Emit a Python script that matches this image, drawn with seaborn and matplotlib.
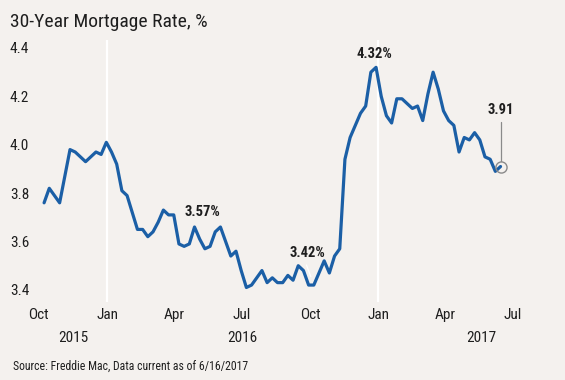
import pandas as pd
import numpy as np
import matplotlib
matplotlib.use("Agg")
import matplotlib.pyplot as plt
import matplotlib.transforms as mtransforms
import seaborn as sns

# =====================================
# Data: weekly 30-year fixed rate (%)
# =====================================

first_week = "2015-10-08"
rates = [
    # 2015
    3.76, 3.82, 3.79, 3.76, 3.87, 3.98, 3.97, 3.95, 3.93, 3.95, 3.97, 3.96, 4.01,
    # 2016
    3.97, 3.92, 3.81, 3.79, 3.72, 3.65, 3.65, 3.62, 3.64, 3.68, 3.73, 3.71, 3.71,
    3.59, 3.58, 3.59, 3.66, 3.61, 3.57, 3.58, 3.64, 3.66, 3.60, 3.54, 3.56, 3.48,
    3.41, 3.42, 3.45, 3.48, 3.43, 3.45, 3.43, 3.43, 3.46, 3.44, 3.50, 3.48, 3.42,
    3.42, 3.47, 3.52, 3.47, 3.54, 3.57, 3.94, 4.03, 4.08, 4.13, 4.16, 4.30, 4.32,
    # 2017
    4.20, 4.12, 4.09, 4.19, 4.19, 4.17, 4.15, 4.16, 4.10, 4.21, 4.30, 4.23, 4.14,
    4.10, 4.08, 3.97, 4.03, 4.02, 4.05, 4.02, 3.95, 3.94, 3.89, 3.91,
]

month_ticks = ["2015-10-01", "2016-01-01", "2016-04-01", "2016-07-01",
               "2016-10-01", "2017-01-01", "2017-04-01", "2017-07-01"]
month_labels = ["Oct", "Jan", "Apr", "Jul", "Oct", "Jan", "Apr", "Jul"]
year_labels = ["2015", "2016", "2017"]
year_pos = ["2015-11-16", "2016-07-01", "2017-05-20"]
y_ticks = [3.4, 3.6, 3.8, 4.0, 4.2, 4.4]

callouts = ["3.57%", "3.42%", "4.32%"]
callout_dates = ["2016-05-09", "2016-09-27", "2016-12-27"]
callout_vals = [3.724, 3.554, 4.375]

df = pd.DataFrame({
    "week": pd.date_range(first_week, periods=len(rates), freq="7D"),
    "rate": rates,
})

# =====================================
# Style
# =====================================

bg = "#f4f1ee"
blue = "#1b5fa6"
ink = "#1e1e1e"

sns.set_style("white", {"axes.facecolor": bg, "figure.facecolor": bg})
plt.rcParams["font.family"] = ["Roboto Condensed", "DejaVu Sans"]
plt.rcParams["font.stretch"] = "condensed"

fig = plt.figure(figsize=(5.65, 3.8), dpi=100)
ax = fig.add_axes([30 / 565, 1 - 302 / 380, 515 / 565, 262 / 380])

# Jan gridlines
for d in ["2016-01-01", "2017-01-01"]:
    ax.axvline(pd.Timestamp(d), color="white", linewidth=1.6, zorder=0)

sns.lineplot(data=df, x="week", y="rate", ax=ax, color=blue, linewidth=2.3,
             zorder=3)

ax.set_xlim(pd.Timestamp("2015-09-19"), pd.Timestamp("2017-08-14"))
ax.set_ylim(3.350, 4.433)

ax.set_xticks(pd.to_datetime(month_ticks))
ax.set_xticklabels(month_labels)
ax.set_yticks(y_ticks)
ax.set_yticklabels([f"{v:.1f}" for v in y_ticks])
for lbl in ax.get_yticklabels():
    lbl.set_horizontalalignment("left")
ax.tick_params(axis="both", length=0, labelsize=11, colors=ink)
ax.tick_params(axis="y", pad=14.4)
ax.tick_params(axis="x", pad=4)
ax.set_xlabel("")
ax.set_ylabel("")
sns.despine(ax=ax, left=True, bottom=True)

# year labels under the months
yr_tr = mtransforms.blended_transform_factory(ax.transData, fig.transFigure)
for lab, pos in zip(year_labels, year_pos):
    ax.text(pd.Timestamp(pos), 1 - 338 / 380, lab, transform=yr_tr,
            ha="center", va="center", fontsize=11, color=ink)

# callouts
for lab, d, v in zip(callouts, callout_dates, callout_vals):
    ax.text(pd.Timestamp(d), v, lab, ha="center", va="center", fontsize=10.5,
            fontweight="bold", color=ink, zorder=5)

# faint leader for the 3.42% low
ax.plot([pd.Timestamp("2016-09-26"), pd.Timestamp("2016-10-02")],
        [3.503, 3.455], color="white", linewidth=0.9, zorder=2)

# last value marker
last_d = df["week"].iloc[-1]
last_v = df["rate"].iloc[-1]
ax.plot([last_d], [last_v], marker="o", markersize=8, markerfacecolor="none",
        markeredgecolor="#8a8a8a", markeredgewidth=1.0, zorder=4)
ax.plot([last_d, last_d], [4.094, 3.933], color="#8a8a8a", linewidth=0.9,
        zorder=4)
ax.text(last_d, 4.144, f"{last_v:.2f}", ha="center", va="center",
        fontsize=10.5, fontweight="bold", color=ink, zorder=5)

fig.text(10 / 565, 1 - 22 / 380, "30-Year Mortgage Rate, %", ha="left",
         va="center", fontsize=14, color=ink)
fig.text(13 / 565, 1 - 366.5 / 380,
         "Source: Freddie Mac, Data current as of 6/16/2017", ha="left",
         va="center", fontsize=8.5, color=ink)

fig.savefig("out.png", dpi=100, facecolor=bg)
